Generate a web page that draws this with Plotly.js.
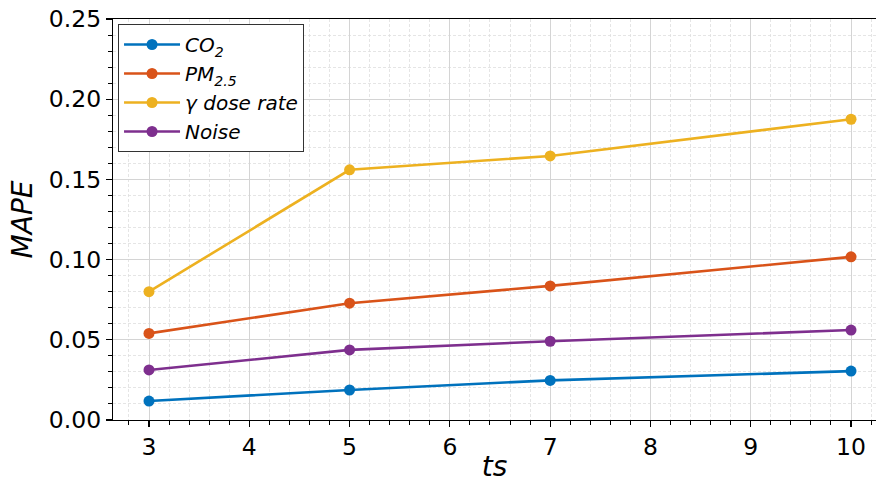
<!DOCTYPE html>
<html>
<head>
<meta charset="utf-8">
<script src="https://cdn.plot.ly/plotly-3.0.1.min.js"></script>
<style>html,body{margin:0;padding:0;background:#fff;}#chart{width:876px;height:483px;}</style>
</head>
<body>
<div id="chart"></div>
<script>
const ts = [3, 5, 7, 10];
const co2 = [0.0118, 0.0187, 0.0247, 0.0305];
const pm25 = [0.0540, 0.0728, 0.0836, 0.1017];
const gammaDose = [0.0800, 0.1560, 0.1646, 0.1875];
const noise = [0.0312, 0.0437, 0.0491, 0.0561];
const names = ['<i>CO</i><sub><i>2</i></sub>', '<i>PM</i><sub><i>2.5</i></sub>', '<i>γ dose rate</i>', '<i>Noise</i>'];
const colors = ['#0072BD', '#D95319', '#EDB120', '#7E2F8E'];
const series = [co2, pm25, gammaDose, noise];

const traces = series.map((s, i) => ({
  x: ts, y: s, name: names[i], type: 'scatter', mode: 'lines+markers',
  line: {color: colors[i], width: 2.6},
  marker: {color: colors[i], size: 11}
}));

const axisCommon = {
  showline: true, linecolor: '#000', linewidth: 1.2,
  ticks: 'outside', ticklen: 6, tickwidth: 1.2, tickcolor: '#000',
  showgrid: true, gridcolor: '#d4d4d4', gridwidth: 1,
  zeroline: false,
  tickfont: {family: 'DejaVu Sans', size: 23.5, color: '#000'}
};
const minorCommon = {ticks: 'outside', ticklen: 3.5, tickwidth: 1, tickcolor: '#000', showgrid: true, gridcolor: '#dedede', griddash: '3px,2px', gridwidth: 0.8};

const layout = {
  width: 876, height: 483,
  margin: {l: 113, r: 0, t: 19, b: 63},
  paper_bgcolor: '#fff', plot_bgcolor: '#fff',
  font: {family: 'DejaVu Sans', color: '#000'},
  showlegend: true,
  xaxis: Object.assign({}, axisCommon, {
    range: [2.641, 10.249], dtick: 1, tick0: 0, mirror: true,
    title: {text: '<i>ts</i>', font: {family: 'DejaVu Sans', size: 28, color: '#000'}, standoff: 16},
    minor: Object.assign({dtick: 0.2}, minorCommon)
  }),
  yaxis: Object.assign({}, axisCommon, {
    range: [0, 0.25], dtick: 0.05, tickformat: '.2f',
    title: {text: '<i>MAPE</i>', font: {family: 'DejaVu Sans', size: 28, color: '#000'}, standoff: 8},
    minor: Object.assign({dtick: 0.01}, minorCommon)
  }),
  legend: {
    x: 0.0066, y: 0.9875, xanchor: 'left', yanchor: 'top',
    bgcolor: '#fff', bordercolor: '#333', borderwidth: 1,
    font: {family: 'DejaVu Sans', size: 20, color: '#000'},
    tracegroupgap: 0, itemwidth: 56
  }
};

Plotly.newPlot('chart', traces, layout, {displayModeBar: false, staticPlot: true});
</script>
</body>
</html>
